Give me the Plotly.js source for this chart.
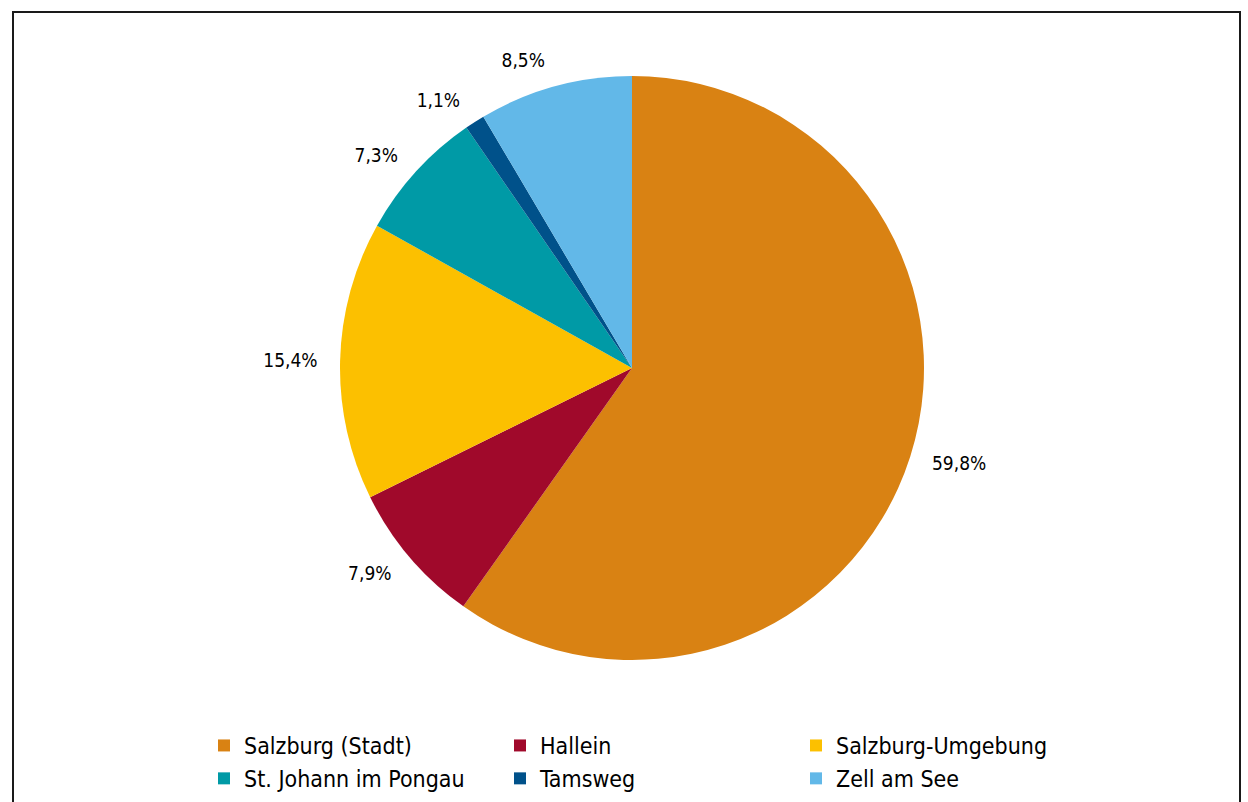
<!DOCTYPE html>
<html>
<head>
<meta charset="utf-8">
<script src="https://cdn.plot.ly/plotly-3.0.1.min.js"></script>
<style>
html,body{margin:0;padding:0;background:#fff;overflow:hidden;}
#frame{position:absolute;left:12px;top:11px;width:1229px;height:900px;border:2px solid #1a1a1a;box-sizing:border-box;}
#chart{position:absolute;left:0;top:0;width:1248px;height:802px;}
</style>
</head>
<body>
<div id="chart"></div>
<div id="frame"></div>
<script>
const regions = ["Salzburg (Stadt)", "Hallein", "Salzburg-Umgebung", "St. Johann im Pongau", "Tamsweg", "Zell am See"];
const shares = [59.8, 7.9, 15.4, 7.3, 1.1, 8.5];
const colors = ["#D98213", "#A0092B", "#FCC000", "#009AA6", "#00518A", "#62B8E8"];

const W = 1248, H = 802;
const ML = 174, MR = 174;           // side margins -> plot width 900 makes the legend wrap after 3 items
const PW = W - ML - MR;
const cx = 632, cy = 368, r = 292;
const labelR = r + 17;
const FONT = 'DejaVu Sans Condensed, DejaVu Sans, sans-serif';

function dom(rad) {
  return {x: [(cx - rad - ML) / PW, (cx + rad - ML) / PW], y: [(H - cy - rad) / H, (H - cy + rad) / H]};
}

// Visible pie slices
const pieTrace = {
  type: 'pie',
  labels: regions,
  values: shares,
  sort: false,
  direction: 'clockwise',
  rotation: 0,
  marker: {colors: colors, line: {color: '#ffffff', width: 0}},
  textinfo: 'none',
  hoverinfo: 'label+percent',
  domain: dom(r)
};

// Transparent, slightly larger pie used only to place the outside data labels
const labelTrace = {
  type: 'pie',
  labels: regions,
  values: shares,
  sort: false,
  direction: 'clockwise',
  rotation: 0,
  legend: 'legend2',
  showlegend: false,
  marker: {colors: regions.map(() => 'rgba(0,0,0,0)'), line: {width: 0}},
  textposition: 'outside',
  texttemplate: '%{value:.1f}%',
  textfont: {family: FONT, size: 19, color: '#000'},
  hoverinfo: 'skip',
  domain: dom(labelR)
};

const layout = {
  width: W, height: H,
  margin: {l: ML, r: MR, t: 0, b: 0, autoexpand: false},
  paper_bgcolor: '#fff',
  plot_bgcolor: '#fff',
  separators: ',.',
  showlegend: true,
  legend: {
    orientation: 'h',
    x: (204 - ML) / PW, xanchor: 'left',
    y: (H - 724) / H, yanchor: 'top',
    entrywidth: 251, entrywidthmode: 'pixels',
    itemwidth: 30,
    traceorder: 'normal',
    font: {family: FONT, size: 23, color: '#000'}
  },
  legend2: {visible: false}
};

Plotly.newPlot('chart', [pieTrace, labelTrace], layout, {displayModeBar: false, staticPlot: true});
</script>
</body>
</html>
